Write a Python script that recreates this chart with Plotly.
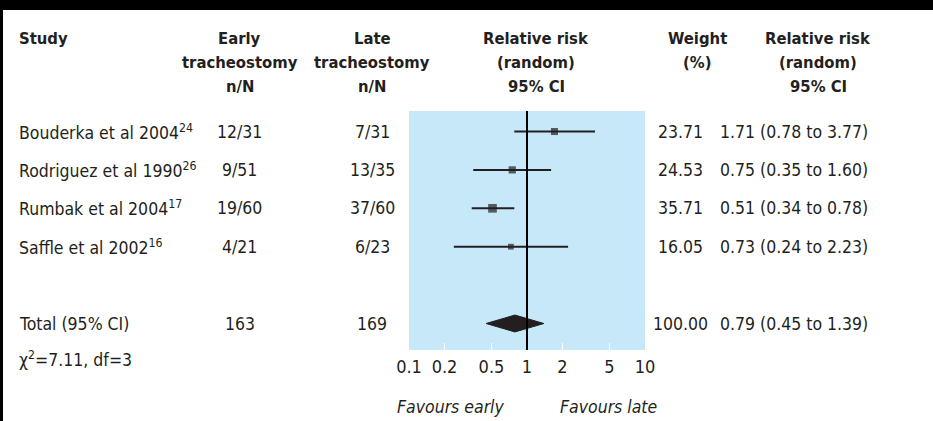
import plotly.graph_objects as go

# ---- data -------------------------------------------------------------
studies = ["Bouderka et al 2004", "Rodriguez et al 1990", "Rumbak et al 2004", "Saffle et al 2002"]
refs = ["24", "26", "17", "16"]
early_nN = ["12/31", "9/51", "19/60", "4/21"]
late_nN = ["7/31", "13/35", "37/60", "6/23"]
rr = [1.71, 0.75, 0.51, 0.73]
rr_lo = [0.78, 0.35, 0.34, 0.24]
rr_hi = [3.77, 1.60, 0.78, 2.23]
weight = [23.71, 24.53, 35.71, 16.05]

total_label = "Total (95% CI)"
total_early = "163"
total_late = "169"
total_rr = 0.79
total_lo = 0.45
total_hi = 1.39
total_weight = 100.00
heterogeneity = "χ<sup>2</sup>=7.11, df=3"

tick_vals = [0.1, 0.2, 0.5, 1, 2, 5, 10]
tick_text = ["0.1", "0.2", "0.5", "1", "2", "5", "10"]

# ---- layout constants --------------------------------------------------
W, H = 933, 421
FONT = "DejaVu Sans Condensed, Liberation Sans Narrow, sans-serif"
TXT = "#231f20"
BLUE = "#c6e8f8"
FS = 17.5      # body text
FS_HEAD = 16.5 # bold column headings

row_y = list(range(len(studies)))
total_y = len(studies) + 1

def px(x):
    return x / W

def py(y):
    return 1 - y / H

fig = go.Figure()

# confidence intervals + weighted squares
fig.add_trace(go.Scatter(
    x=rr, y=row_y, mode="markers",
    marker=dict(symbol="square", color=TXT,
                size=[1.45 * w ** 0.5 for w in weight], line=dict(width=0)),
    error_x=dict(type="data", symmetric=False,
                 array=[h - r for h, r in zip(rr_hi, rr)],
                 arrayminus=[r - l for r, l in zip(rr, rr_lo)],
                 color=TXT, thickness=2, width=0),
    hoverinfo="skip", showlegend=False,
))

# pooled estimate diamond
dh = 0.22
fig.add_trace(go.Scatter(
    x=[total_lo, total_rr, total_hi, total_rr, total_lo],
    y=[total_y, total_y - dh, total_y, total_y + dh, total_y],
    mode="lines", fill="toself", fillcolor=TXT,
    line=dict(color=TXT, width=1), hoverinfo="skip", showlegend=False,
))

ann = []

def text(x, y, s, xanchor="left", yref="y", size=FS, bold=False, italic=False):
    if bold:
        s = "<b>" + s + "</b>"
    if italic:
        s = "<i>" + s + "</i>"
    ann.append(dict(x=px(x), xref="paper", y=y, yref=yref, text=s,
                    xanchor=xanchor, yanchor="middle", showarrow=False,
                    font=dict(family=FONT, size=size, color=TXT)))

# header
headers = [
    (17, "left", ["Study"]),
    (240, "center", ["Early", "tracheostomy", "n/N"]),
    (372, "center", ["Late", "tracheostomy", "n/N"]),
    (536, "center", ["Relative risk", "(random)", "95% CI"]),
    (697, "center", ["Weight", "(%)"]),
    (818, "center", ["Relative risk", "(random)", "95% CI"]),
]
header_line_y = [39, 62.5, 86]
for x, anc, lines in headers:
    for i, ln in enumerate(lines):
        text(x, py(header_line_y[i]), ln, xanchor=anc, yref="paper",
             size=FS_HEAD, bold=True)

# study rows
for i in range(len(studies)):
    text(17, row_y[i], studies[i] + "<sup>" + refs[i] + "</sup>")
    text(240, row_y[i], early_nN[i], xanchor="center")
    text(372, row_y[i], late_nN[i], xanchor="center")
    text(680, row_y[i], f"{weight[i]:.2f}", xanchor="center")
    text(718, row_y[i], f"{rr[i]:.2f} ({rr_lo[i]:.2f} to {rr_hi[i]:.2f})")

# total row
text(17, total_y, total_label)
text(240, total_y, total_early, xanchor="center")
text(372, total_y, total_late, xanchor="center")
text(680, total_y, f"{total_weight:.2f}", xanchor="center")
text(718, total_y, f"{total_rr:.2f} ({total_lo:.2f} to {total_hi:.2f})")

text(17, py(359), heterogeneity, yref="paper")
text(450, py(407), "Favours early", xanchor="center", yref="paper", italic=True)
text(608, py(407), "Favours late", xanchor="center", yref="paper", italic=True)

shapes = [
    # line of no effect
    dict(type="line", xref="x", yref="y domain", x0=1, x1=1, y0=0, y1=1,
         line=dict(color="#000000", width=2), layer="above"),
    # frame: heavy top rule and thin left rule
    dict(type="rect", xref="paper", yref="paper", x0=0, x1=1, y0=py(10), y1=1,
         fillcolor="#000000", line=dict(width=0)),
    dict(type="rect", xref="paper", yref="paper", x0=0, x1=px(3), y0=0, y1=1,
         fillcolor="#000000", line=dict(width=0)),
]

fig.update_layout(
    width=W, height=H, autosize=False,
    margin=dict(l=0, r=0, t=0, b=0, pad=0, autoexpand=False),
    paper_bgcolor="white", plot_bgcolor=BLUE,
    font=dict(family=FONT, size=FS, color=TXT),
    xaxis=dict(type="log", range=[-1, 1], domain=[px(409), px(645)],
               tickvals=tick_vals, ticktext=tick_text,
               ticks="inside", ticklen=7, tickwidth=1, tickcolor="white",
               showgrid=False, zeroline=False, showline=False,
               tickfont=dict(family=FONT, size=18, color=TXT),
               ticklabelstandoff=4, automargin=False, fixedrange=True),
    yaxis=dict(range=[5.69, -0.534], domain=[py(350), py(111)],
               showgrid=False, zeroline=False, showticklabels=False,
               ticks="", automargin=False, fixedrange=True),
    annotations=ann, shapes=shapes,
)

fig.write_html("out.html", config={"displayModeBar": False},
               post_script="document.body.style.margin='0';")
